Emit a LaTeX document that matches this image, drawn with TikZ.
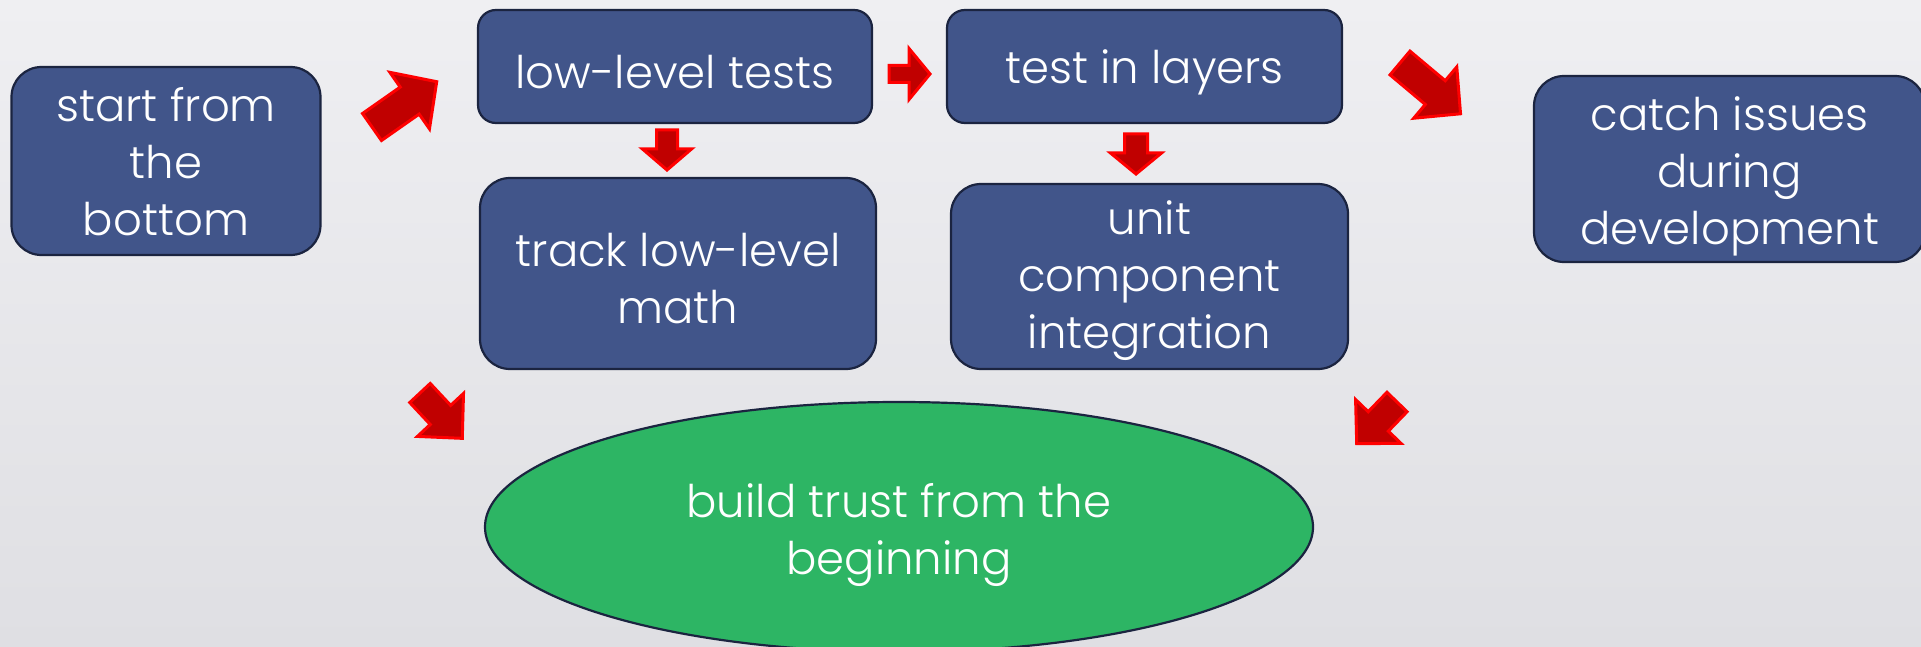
\documentclass[tikz,border=0pt]{standalone}
\usepackage{fontspec}
\setmainfont{Poppins}[UprightFont={* Light}]
\usetikzlibrary{shapes.geometric}
\definecolor{bgtop}{HTML}{EFEFF2}
\definecolor{bgbot}{HTML}{DFDFE3}
\definecolor{boxfill}{HTML}{41558A}
\definecolor{boxline}{HTML}{1B2440}
\definecolor{ellfill}{HTML}{2DB564}
\definecolor{arrfill}{HTML}{C00000}
\definecolor{arrline}{HTML}{FF0000}
\tikzset{
  stepbox/.style={draw=boxline, line width=2.2pt, fill=boxfill, inner sep=0pt},
  goal/.style={ellipse, draw=boxline, line width=2.2pt, fill=ellfill, inner sep=0pt},
  boxtext/.style={text=white, align=center, inner sep=0pt,
    font=\fontsize{45}{57}\selectfont},
  blockarrow/.style={fill=arrfill, draw=arrline, line width=3pt, line join=miter}
}
\newcommand\barrow[6]{%
  \begin{scope}[shift={(#1)}, rotate=#2]
    \draw[blockarrow] (0,#4) -- ({#3-#6},#4) -- ({#3-#6},#5) -- (#3,0)
      -- ({#3-#6},-#5) -- ({#3-#6},-#4) -- (0,-#4) -- cycle;
  \end{scope}}
\begin{document}
\begin{tikzpicture}[x=1pt,y=-1pt]
\useasboundingbox (0,0) rectangle (1921,647);
\shade[top color=bgtop, bottom color=bgbot] (0,0) rectangle (1921,647);

\node[stepbox, rounded corners=30pt, minimum width=309pt, minimum height=188pt] (start) at (166,161) {};
\node[boxtext] (startt) at ([yshift=-1pt]start.center) {start from\\the\\bottom};
\node[stepbox, rounded corners=18pt, minimum width=394pt, minimum height=113pt] (low) at (675,66.5) {};
\node[boxtext] (lowt) at ([yshift=-6pt]low.center) {low-level tests};
\node[stepbox, rounded corners=18pt, minimum width=395pt, minimum height=113pt] (layers) at (1144.5,66.5) {};
\node[boxtext] (layerst) at ([yshift=-6pt]layers.center) {test in layers};
\node[stepbox, rounded corners=30pt, minimum width=391pt, minimum height=186pt] (catch) at (1729.5,169) {};
\node[boxtext] (catcht) at ([yshift=-7pt]catch.center) {catch issues\\during\\development};
\node[stepbox, rounded corners=30pt, minimum width=396pt, minimum height=191pt] (track) at (678,273.5) {};
\node[boxtext] (trackt) at ([yshift=-5pt]track.center) {track low-level\\math};
\node[stepbox, rounded corners=30pt, minimum width=397pt, minimum height=185pt] (unit) at (1149.5,276.5) {};
\node[boxtext] (unitt) at ([yshift=-4pt]unit.center) {unit\\component\\integration};
\node[goal, minimum width=828pt, minimum height=250pt] (trust) at (899,527) {};
\node[boxtext] (trustt) at ([yshift=-8pt]trust.center) {build trust from the\\beginning};

\barrow{372,127}{35}{79}{16.5}{34.5}{33}
\barrow{889,74}{0}{41}{8.5}{25.5}{21}
\barrow{1400,63}{-40}{79}{15.5}{33.5}{33}
\barrow{420,393}{-47}{62}{14}{31.5}{32}
\barrow{1397,402}{-134}{58}{14}{31.5}{31}
\barrow{667,130}{-90}{40}{10.5}{24.5}{21}
\barrow{1136,134}{-90}{40}{11.5}{25.5}{21}
\end{tikzpicture}
\end{document}
